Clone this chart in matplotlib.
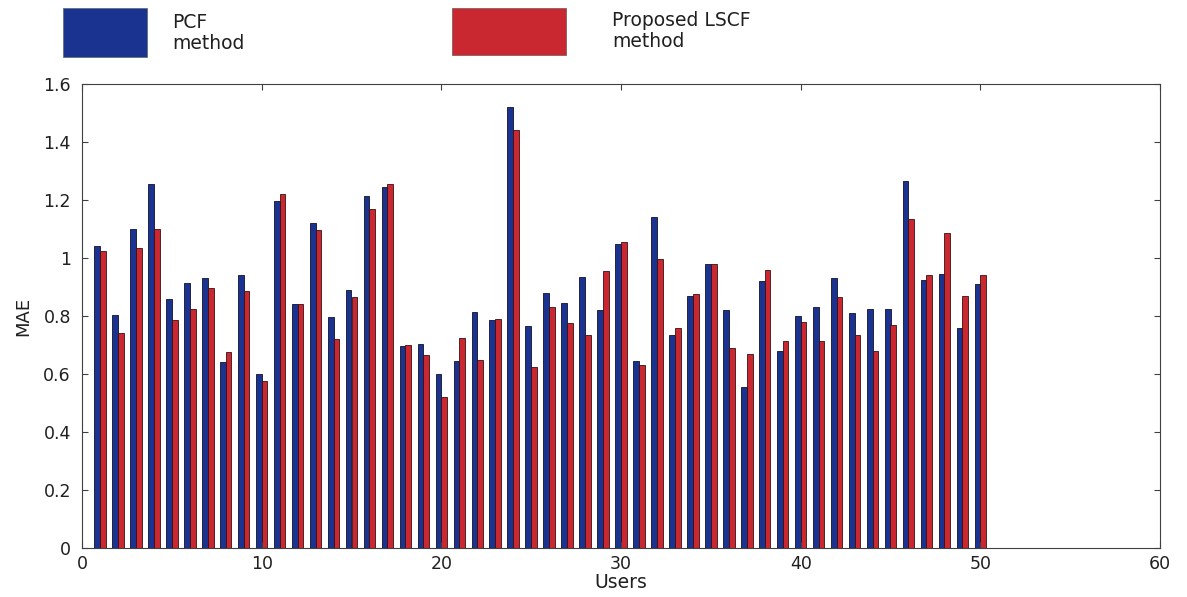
import matplotlib
matplotlib.use("Agg")
import matplotlib.pyplot as plt
import numpy as np
from matplotlib.patches import Rectangle

plt.rcParams['font.family'] = ['DejaVu Sans']

users = list(range(1, 51))
pcf = [1.04, 0.805, 1.10, 1.255, 0.86, 0.915, 0.93, 0.64, 0.94, 0.60,
       1.195, 0.84, 1.12, 0.795, 0.89, 1.215, 1.245, 0.695, 0.705, 0.60,
       0.645, 0.815, 0.785, 1.52, 0.765, 0.88, 0.845, 0.935, 0.82, 1.05,
       0.645, 1.14, 0.735, 0.87, 0.98, 0.82, 0.555, 0.92, 0.68, 0.80,
       0.83, 0.93, 0.81, 0.825, 0.825, 1.265, 0.925, 0.945, 0.76, 0.91]
lscf = [1.025, 0.74, 1.035, 1.10, 0.785, 0.825, 0.895, 0.675, 0.885, 0.575,
        1.22, 0.84, 1.095, 0.72, 0.865, 1.17, 1.255, 0.70, 0.665, 0.52,
        0.725, 0.65, 0.79, 1.44, 0.625, 0.83, 0.775, 0.735, 0.955, 1.055,
        0.63, 0.995, 0.76, 0.875, 0.98, 0.69, 0.67, 0.96, 0.715, 0.78,
        0.715, 0.865, 0.735, 0.68, 0.77, 1.135, 0.94, 1.085, 0.87, 0.94]
series_labels = ["PCF\nmethod", "Proposed LSCF\nmethod"]
xlabel = "Users"
ylabel = "MAE"

blue = "#1a3290"
red = "#c92830"

fig = plt.figure(figsize=(11.87, 5.97), dpi=100)
ax = fig.add_axes([82/1187, 49/597, (1160-82)/1187, (548-84)/597])

x = np.array(users, dtype=float)
w = 0.32
ax.bar(x - w/2, pcf, width=w, color=blue, edgecolor="#101028", linewidth=0.6)
ax.bar(x + w/2, lscf, width=w, color=red, edgecolor="#381010", linewidth=0.6)

ax.set_xlim(0, 60)
ax.set_ylim(0, 1.6)
ax.set_xticks(np.arange(0, 61, 10))
ax.set_yticks(np.arange(0, 1.61, 0.2))
ax.set_yticklabels(["0", "0.2", "0.4", "0.6", "0.8", "1", "1.2", "1.4", "1.6"])
ax.tick_params(direction="in", top=True, right=True, labelsize=12.5, length=4,
               color="#404040", labelcolor="#202020")
ax.tick_params(axis="y", pad=8)
ax.tick_params(axis="x", pad=5)
for s in ax.spines.values():
    s.set_color("#404040")
    s.set_linewidth(0.8)
ax.set_xlabel(xlabel, fontsize=13.5, labelpad=0, color="#202020")
ax.set_ylabel(ylabel, fontsize=13, labelpad=8, color="#202020")

# legend drawn at top, outside axes
fig.patches.append(Rectangle((63/1187, 1-57/597), 84/1187, 49/597,
                             transform=fig.transFigure, facecolor=blue,
                             edgecolor="#607080", linewidth=0.6))
fig.patches.append(Rectangle((452/1187, 1-55/597), 114/1187, 47/597,
                             transform=fig.transFigure, facecolor=red,
                             edgecolor="#806060", linewidth=0.6))
fig.text(172/1187, 1-33/597, series_labels[0], fontsize=13.5, va="center", ha="left",
         linespacing=1.12, color="#202020")
fig.text(612/1187, 1-31/597, series_labels[1], fontsize=13.5, va="center", ha="left",
         linespacing=1.12, color="#202020")

fig.savefig("out.png", dpi=100)
